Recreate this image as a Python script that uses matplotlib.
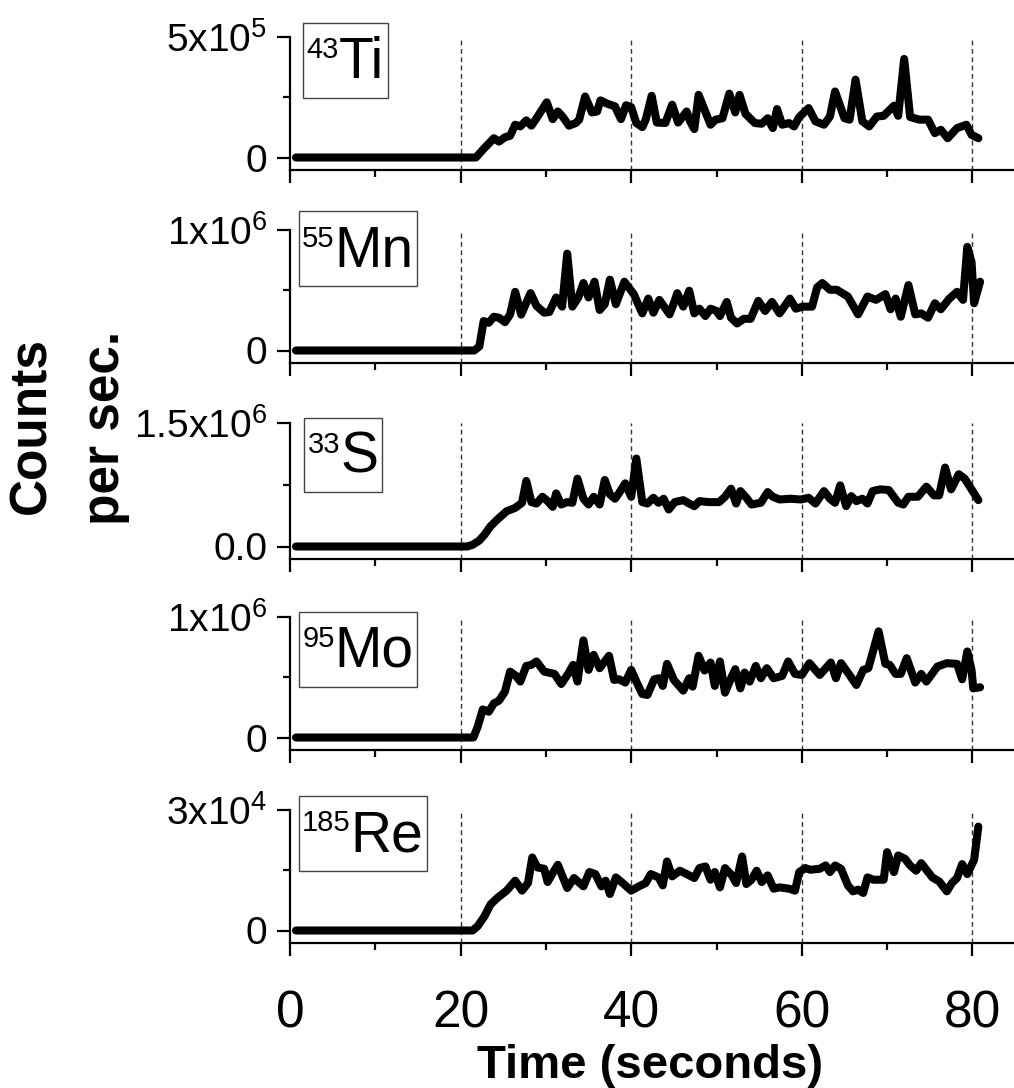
import matplotlib
matplotlib.use("Agg")
import matplotlib.pyplot as plt
from matplotlib.offsetbox import TextArea, HPacker, VPacker, DrawingArea, AnchoredOffsetbox

plt.rcParams['font.family'] = ['Liberation Sans', 'DejaVu Sans']
plt.rcParams['mathtext.fontset'] = 'custom'
plt.rcParams['mathtext.rm'] = 'Liberation Sans'
plt.rcParams['mathtext.it'] = 'Liberation Sans'
plt.rcParams['mathtext.bf'] = 'Liberation Sans:bold'

# ---------------- data ----------------
isotope_mass = ["43", "55", "33", "95", "185"]
isotope_elem = ["Ti", "Mn", "S", "Mo", "Re"]
axis_top = [5e5, 1e6, 1.5e6, 1e6, 3e4]
ytick_labels = [["0", r"5x10$^5$"], ["0", r"1x10$^6$"], ["0.0", r"1.5x10$^6$"],
                ["0", r"1x10$^6$"], ["0", r"3x10$^4$"]]
x_major = [0, 20, 40, 60, 80]
x_minor = [10, 30, 50, 70]

ti_t = [0.7, 21.8, 22.6, 23.9, 24.5, 25.2, 25.8, 26.4, 27.0, 27.7, 28.3, 28.9, 30.1, 30.8, 31.4, 32.0,
        32.7, 33.5, 33.9, 34.6, 35.4, 36.0, 36.4, 37.2, 38.1, 38.8, 39.4, 40.0, 40.6, 41.3, 41.7, 42.4,
        43.0, 44.0, 44.8, 45.5, 46.5, 46.9, 47.4, 47.9, 49.3, 49.9, 50.7, 51.5, 52.2, 52.7, 53.4, 54.5,
        55.3, 56.0, 56.6, 57.1, 57.7, 58.5, 59.1, 59.7, 60.8, 61.6, 62.6, 63.3, 63.9, 65.0, 65.6, 66.3,
        67.1, 67.9, 68.8, 69.6, 70.8, 71.3, 72.0, 72.7, 73.8, 74.8, 75.6, 76.3, 77.1, 78.2, 79.3, 79.9, 80.7]
ti_v = [0, 0, 0.32, 0.80, 0.66, 0.84, 0.90, 1.36, 1.29, 1.54, 1.32, 1.63, 2.29, 1.59, 1.91, 1.68,
        1.32, 1.43, 1.57, 2.53, 1.87, 1.91, 2.37, 2.23, 2.12, 1.59, 2.17, 2.09, 1.43, 1.26, 1.57, 2.56,
        1.45, 1.43, 2.19, 1.45, 1.91, 1.50, 1.18, 2.60, 1.36, 1.57, 1.63, 2.65, 1.87, 2.60, 1.81, 1.43,
        1.40, 1.63, 1.22, 2.01, 1.36, 1.43, 1.29, 1.68, 2.05, 1.50, 1.36, 1.70, 2.74, 1.63, 1.57, 3.23,
        1.50, 1.29, 1.70, 1.73, 2.15, 1.73, 4.09, 1.68, 1.57, 1.57, 1.01, 1.15, 0.80, 1.22, 1.36, 0.94, 0.80]

mn_t = [0.7, 21.6, 22.2, 22.7, 23.3, 23.9, 24.5, 25.2, 25.8, 26.4, 27.1, 28.2, 28.9, 29.8, 30.4, 31.2,
        31.9, 32.5, 33.1, 33.8, 34.4, 35.0, 35.7, 36.3, 36.9, 37.5, 38.2, 39.2, 40.3, 41.3, 42.0, 42.6,
        43.3, 44.5, 45.1, 45.4, 46.1, 46.8, 47.4, 48.0, 48.7, 49.3, 50.0, 50.4, 51.2, 51.7, 52.4, 53.2,
        54.0, 54.9, 55.7, 56.5, 57.4, 58.6, 59.3, 60.1, 61.2, 61.8, 62.4, 63.3, 64.1, 65.4, 66.6, 67.7,
        68.7, 69.8, 70.4, 71.0, 71.6, 72.5, 73.3, 74.0, 74.8, 75.6, 76.3, 77.3, 78.2, 78.9, 79.4, 79.9,
        80.2, 80.9]
mn_v = [0, 0, 0.34, 2.44, 2.30, 2.80, 2.72, 2.35, 2.98, 4.87, 2.98, 4.76, 3.70, 3.14, 3.19, 4.40,
        3.64, 8.04, 3.64, 4.40, 5.60, 4.40, 5.71, 3.36, 3.84, 5.88, 3.84, 5.71, 4.68, 3.08, 4.31, 3.14,
        4.20, 3.00, 4.12, 4.76, 3.64, 4.96, 3.08, 3.47, 2.86, 3.47, 3.28, 2.86, 4.03, 2.72, 2.24, 2.63,
        2.63, 4.12, 3.28, 4.03, 3.08, 4.31, 3.47, 3.64, 3.64, 5.24, 5.60, 5.04, 5.04, 4.48, 3.00, 4.48,
        4.20, 4.68, 3.42, 4.31, 2.80, 5.43, 3.00, 3.08, 2.72, 3.92, 3.42, 4.31, 4.87, 4.20, 8.60, 7.34,
        3.92, 5.71]

s_t = [0.7, 20.75, 21.4, 22.2, 22.8, 23.5, 24.3, 25.4, 26.4, 27.2, 27.7, 28.3, 28.9, 29.6, 30.2, 30.8,
       31.2, 31.8, 32.5, 33.1, 33.7, 34.4, 35.0, 35.6, 36.3, 36.9, 37.5, 38.1, 38.6, 39.3, 40.0, 40.6,
       41.3, 41.9, 42.6, 43.2, 43.8, 44.4, 45.1, 46.1, 46.8, 47.4, 48.0, 49.1, 50.3, 51.0, 51.7, 52.3,
       52.8, 53.5, 54.1, 55.2, 56.0, 56.6, 57.4, 58.7, 59.9, 60.8, 61.6, 62.6, 63.3, 63.9, 64.5, 65.2,
       65.8, 66.4, 67.1, 67.7, 68.3, 69.2, 70.2, 71.3, 71.9, 72.5, 73.6, 74.6, 75.5, 76.1, 76.8, 77.5,
       78.4, 79.1, 79.9, 80.7]
s_v = [0, 0, 0.20, 0.73, 1.43, 2.45, 3.27, 4.29, 4.69, 5.31, 7.96, 5.39, 5.22, 6.04, 5.51, 4.82,
       6.45, 5.10, 5.39, 5.31, 8.24, 5.80, 5.10, 6.04, 5.10, 8.08, 6.33, 5.80, 6.53, 7.67, 6.04, 10.69,
       5.39, 5.22, 5.92, 5.31, 5.80, 4.49, 5.39, 5.63, 5.22, 4.90, 5.51, 5.39, 5.39, 6.04, 7.02, 5.22,
       6.73, 5.92, 5.10, 5.31, 6.61, 6.04, 5.71, 5.80, 5.71, 5.92, 5.22, 6.73, 5.80, 5.31, 7.43, 4.90,
       6.12, 5.51, 5.80, 5.22, 6.73, 6.94, 6.86, 5.31, 5.10, 6.04, 6.04, 7.27, 6.21, 6.21, 9.59, 6.94,
       8.78, 8.24, 6.94, 5.63]

mo_t = [0.7, 21.5, 22.0, 22.6, 23.3, 23.9, 24.5, 25.2, 25.8, 26.5, 27.0, 27.7, 28.3, 28.9, 29.8, 31.0,
        31.8, 32.6, 33.2, 33.7, 34.4, 35.0, 35.6, 36.3, 37.4, 38.0, 38.6, 39.3, 40.0, 40.6, 41.3, 41.9,
        42.7, 43.3, 43.7, 44.2, 45.0, 46.1, 46.8, 47.2, 47.9, 48.6, 49.3, 49.8, 50.4, 51.0, 51.7, 52.2,
        52.8, 53.3, 53.9, 54.6, 55.2, 55.9, 56.7, 57.7, 58.4, 59.2, 60.0, 60.9, 62.1, 63.4, 64.0, 64.6,
        65.5, 66.4, 67.2, 67.8, 69.0, 69.8, 70.3, 71.0, 71.6, 72.3, 73.3, 74.0, 74.6, 75.9, 77.0, 78.2,
        78.8, 79.4, 79.9, 80.1, 80.9]
mo_v = [0, 0, 0.89, 2.33, 2.14, 2.83, 3.06, 3.81, 5.47, 5.11, 4.64, 5.94, 6.03, 6.31, 5.47, 5.28,
        4.44, 5.28, 6.03, 4.64, 8.06, 5.61, 6.86, 5.75, 6.78, 4.78, 4.83, 4.56, 5.61, 4.64, 3.61, 3.53,
        4.83, 4.92, 4.28, 6.11, 4.78, 3.89, 4.92, 4.22, 6.78, 5.56, 6.22, 4.28, 6.31, 3.72, 4.92, 5.67,
        4.08, 5.39, 4.64, 5.94, 4.92, 5.75, 4.92, 5.11, 6.31, 5.28, 5.19, 6.17, 5.19, 6.22, 4.92, 6.17,
        5.28, 4.36, 5.61, 5.75, 8.81, 6.11, 6.03, 5.28, 5.28, 6.58, 4.56, 5.28, 4.64, 5.89, 6.17, 6.11,
        4.83, 7.14, 5.61, 4.08, 4.17]

re_t = [0.7, 21.4, 22.0, 22.8, 23.5, 24.3, 25.4, 26.4, 27.2, 27.9, 28.4, 29.0, 29.8, 30.2, 30.8, 31.4,
        32.5, 33.3, 34.4, 35.1, 35.8, 36.5, 37.0, 37.5, 38.2, 39.0, 40.0, 40.9, 41.7, 42.3, 43.2, 43.7,
        44.2, 44.8, 45.7, 46.5, 47.4, 48.0, 48.7, 49.3, 49.8, 50.4, 51.0, 51.8, 52.3, 53.0, 53.5, 54.1,
        54.7, 55.3, 56.0, 56.7, 57.4, 58.5, 59.2, 59.7, 60.4, 61.0, 62.1, 62.8, 63.3, 63.9, 64.6, 65.4,
        66.0, 66.6, 67.2, 67.7, 68.4, 69.6, 70.0, 70.8, 71.3, 72.1, 72.7, 73.4, 74.0, 74.6, 75.3, 76.1,
        77.0, 77.6, 78.2, 78.8, 79.4, 80.2, 80.7]
re_v = [0, 0, 1.07, 3.55, 6.45, 8.10, 9.92, 12.40, 9.92, 11.82, 18.18, 15.70, 15.37, 12.07, 14.30, 16.36,
        10.58, 13.06, 10.99, 14.55, 14.05, 10.99, 12.40, 9.09, 13.22, 11.82, 9.92, 10.99, 11.82, 14.05, 13.22, 11.24,
        17.19, 13.47, 14.88, 14.05, 13.06, 15.54, 15.95, 12.64, 14.55, 10.74, 15.54, 13.72, 11.82, 18.43, 11.57, 12.64,
        14.88, 12.07, 13.72, 10.41, 10.74, 10.41, 9.92, 14.55, 15.54, 15.12, 15.37, 16.20, 14.55, 16.20, 15.37, 11.24,
        9.75, 10.17, 9.34, 13.22, 12.64, 12.64, 19.50, 14.55, 18.68, 17.85, 16.20, 14.88, 16.78, 15.12, 13.22, 12.23,
        9.75, 11.82, 13.06, 16.53, 14.05, 17.60, 25.87]

series_t = [ti_t, mn_t, s_t, mo_t, re_t]
series_v = [ti_v, mn_v, s_v, mo_v, re_v]
value_unit = [1e5, 1e5, 1e5, 1e5, 1e3]

# ---------------- layout ----------------
W, H = 1014, 1088
fig = plt.figure(figsize=(W / 100, H / 100), dpi=100)

panel_px = [(37, 170), (230, 363), (423, 559), (617, 750), (810, 943)]  # top, bottom pixel rows
box_pos = [(0.018, 1.105), (0.012, 1.14), (0.020, 1.04), (0.012, 1.04), (0.012, 1.105)]
ax_left = 290 / W
ax_width = 1 - ax_left
XMAX = (W - 290) / 8.53

for i in range(5):
    top_px, bot_px = panel_px[i]
    ax = fig.add_axes([ax_left, 1 - bot_px / H, ax_width, (bot_px - top_px) / H])
    T = axis_top[i]
    zero_frac = (bot_px - top_px - 12.5) / (bot_px - top_px)  # zero line location
    lo = -T * (1 - zero_frac) / zero_frac
    ax.set_ylim(lo, T)
    ax.set_xlim(0, XMAX)

    for xv in x_major[1:]:
        ax.axvline(xv, color='#333333', lw=1.0, dashes=(3.5, 2.5), zorder=1)

    yv = [v * value_unit[i] for v in series_v[i]]
    ax.plot(series_t[i], yv, color='black', lw=5.8, solid_capstyle='round',
            solid_joinstyle='round', zorder=3, clip_on=False)

    for s in ['top', 'right']:
        ax.spines[s].set_visible(False)
    ax.spines['left'].set_linewidth(1.6)
    ax.spines['bottom'].set_linewidth(1.6)
    ax.spines['left'].set_bounds(lo, T)

    ax.set_yticks([0, T])
    ax.set_yticklabels(ytick_labels[i])
    ax.set_yticks([T / 2], minor=True)
    ax.set_xticks(x_major)
    ax.set_xticks(x_minor, minor=True)
    ax.tick_params(axis='both', which='major', direction='out', length=9.5, width=1.6)
    ax.tick_params(axis='both', which='minor', direction='out', length=5, width=1.6)
    ax.tick_params(axis='y', which='major', labelsize=28, pad=7)
    if i < 4:
        ax.tick_params(axis='x', labelbottom=False)
    else:
        ax.tick_params(axis='x', labelsize=37, pad=24)

    sup = TextArea(isotope_mass[i], textprops=dict(fontsize=21))
    main = TextArea(isotope_elem[i], textprops=dict(fontsize=41))
    row = HPacker(children=[sup, main], align="top", pad=0, sep=0)
    col = VPacker(children=[DrawingArea(1, 7), row, DrawingArea(1, 3)], align="left", pad=0, sep=0)
    ab = AnchoredOffsetbox(loc='upper left', child=col, pad=0.25, borderpad=0, frameon=True,
                           bbox_to_anchor=(box_pos[i][0], box_pos[i][1]),
                           bbox_transform=ax.transAxes)
    ab.patch.set_edgecolor('#444444')
    ab.patch.set_linewidth(1.0)
    fig.add_artist(ab)

fig.text(650 / W, 1 - 1066 / H, "Time (seconds)", fontsize=34, fontweight='bold',
         ha='center', va='center')
fig.text(32 / W, 1 - 425 / H, "Counts", fontsize=37, fontweight='bold', rotation=90,
         ha='center', va='center')
fig.text(106 / W, 1 - 428 / H, "per sec.", fontsize=37, fontweight='bold', rotation=90,
         ha='center', va='center')

fig.savefig("out.png", dpi=100)
